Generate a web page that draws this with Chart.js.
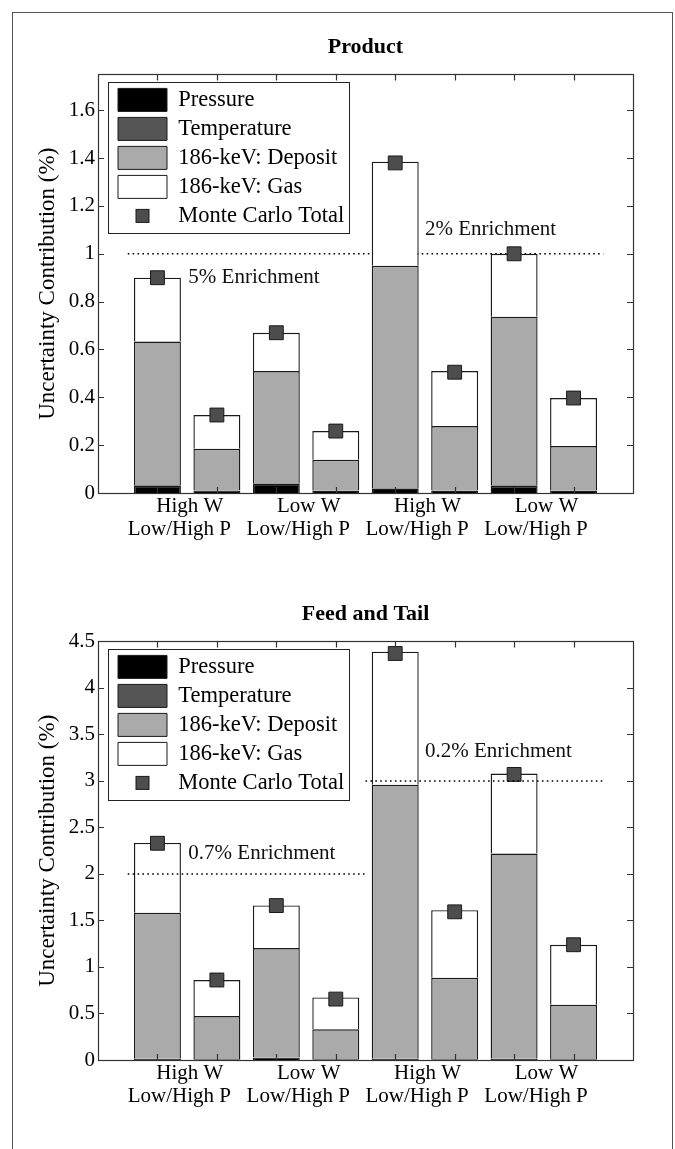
<!DOCTYPE html>
<html>
<head>
<meta charset="utf-8">
<script src="https://cdn.jsdelivr.net/npm/chart.js@4.4.1/dist/chart.umd.min.js"></script>
<style>
  html, body { margin: 0; padding: 0; background: #fff; }
  body { width: 675px; height: 1149px; position: relative; overflow: hidden; }
  #frame { position: absolute; left: 12px; top: 12px; width: 661px; height: 1200px; border: 1px solid #555; box-sizing: border-box; }
  canvas { position: absolute; left: 0; }
  #product { top: 0; }
  #feed { top: 567px; }
</style>
</head>
<body>
<div id="frame"></div>
<canvas id="product" width="675" height="567"></canvas>
<canvas id="feed" width="675" height="567"></canvas>
<script>
const FONT = "'Liberation Serif', 'Times New Roman', serif"

// bar positions and the grouped tick labels under them
const barPos = [1, 2, 3, 4, 5, 6, 7, 8]
const groupPos = [1.5, 3.5, 5.5, 7.5]
const groupTop = ['High W', 'Low W', 'High W', 'Low W']
const groupBottom = ['Low/High P', 'Low/High P', 'Low/High P', 'Low/High P']
const seriesNames = ['Pressure', 'Temperature', '186-keV: Deposit', '186-keV: Gas', 'Monte Carlo Total']

// Product
const productPressure = [0.03, 0.01, 0.038, 0.008, 0.018, 0.008, 0.029, 0.008]
const productTemperature = [0.003, 0.002, 0.003, 0.002, 0.003, 0.002, 0.003, 0.002]
const productDeposit = [0.6, 0.173, 0.469, 0.129, 0.929, 0.27, 0.705, 0.186]
const productGas = [0.267, 0.141, 0.16, 0.12, 0.435, 0.23, 0.263, 0.201]
const productMonteCarlo = [0.9, 0.326, 0.67, 0.259, 1.38, 0.505, 1.0, 0.397]
const productTicks = [0, 0.2, 0.4, 0.6, 0.8, 1, 1.2, 1.4, 1.6]
const productMax = 1.75
const productLines = [[1, 0.5, 8.5]]           // level, from, to
const productNotes = [['5% Enrichment', 1.52, 0.9], ['2% Enrichment', 5.5, 1.1]]

// Feed and Tail
const feedPressure = [0.01, 0.008, 0.025, 0.008, 0.01, 0.008, 0.01, 0.008]
const feedTemperature = [0.004, 0.003, 0.004, 0.003, 0.004, 0.003, 0.004, 0.003]
const feedDeposit = [1.568, 0.462, 1.174, 0.319, 2.946, 0.873, 2.206, 0.583]
const feedGas = [0.752, 0.386, 0.459, 0.343, 1.43, 0.727, 0.86, 0.645]
const feedMonteCarlo = [2.33, 0.86, 1.66, 0.655, 4.37, 1.593, 3.07, 1.239]
const feedTicks = [0, 0.5, 1, 1.5, 2, 2.5, 3, 3.5, 4, 4.5]
const feedMax = 4.5
const feedLines = [[2, 0.5, 4.5], [3, 4.5, 8.5]]
const feedNotes = [['0.7% Enrichment', 1.52, 2.22], ['0.2% Enrichment', 5.5, 3.32]]

const segColors = ['#000000', '#555555', '#aaaaaa', '#ffffff']

function makeChart(canvasId, title, segs, monteCarlo, yMax, yTicks, lines, notes, lineOrder) {
    const datasets = segs.map((vals, i) => ({
        type: 'bar',
        label: seriesNames[i],
        stack: 'bars',
        xAxisID: 'x',
        data: barPos.map((x, j) => ({ x: x, y: vals[j] })),
        backgroundColor: segColors[i],
        borderColor: '#1a1a1a',
        borderWidth: 1.4,
        barPercentage: 0.79,
        categoryPercentage: 1
    }))
    datasets.push({
        type: 'scatter',
        label: seriesNames[4],
        stack: 'mc',
        order: -1,
        xAxisID: 'x',
        data: barPos.map((x, j) => ({ x: x, y: monteCarlo[j] })),
        pointStyle: 'rect',
        pointRadius: 9.8,
        pointHoverRadius: 9.8,
        backgroundColor: '#4d4d4d',
        borderColor: '#1a1a1a',
        borderWidth: 1
    })
    lines.forEach(([level, from, to], k) => {
        datasets.push({
            type: 'line',
            label: 'enrichment ' + k,
            stack: 'line' + k,
            order: lineOrder,
            xAxisID: 'x',
            data: [{ x: from, y: level }, { x: to, y: level }],
            borderColor: '#000',
            borderWidth: 1.6,
            borderDash: [1.6, 3.3],
            pointRadius: 0,
            fill: false
        })
    })

    const framePlugin = {
        id: 'matlabFrame',
        afterLayout(chart) {
            const lg = chart.legend
            const a = chart.chartArea
            lg.left = a.left + 14
            lg.top = a.top + 8
            lg.right = lg.left + lg.width
            lg.bottom = lg.top + lg.height
        },
        afterDraw(chart) {
            const { ctx, chartArea: a, scales } = chart
            ctx.save()

            // text notes next to the enrichment lines
            ctx.fillStyle = '#111'
            ctx.font = '21px ' + FONT
            ctx.textAlign = 'left'
            ctx.textBaseline = 'middle'
            notes.forEach(([text, x, y]) => {
                ctx.fillText(text, scales.x.getPixelForValue(x), scales.y.getPixelForValue(y))
            })

            // axes box with inward ticks
            ctx.strokeStyle = '#333'
            ctx.lineWidth = 1.2
            ctx.strokeRect(Math.round(a.left) + 0.5, Math.round(a.top) + 0.5, Math.round(a.width), Math.round(a.height))
            ctx.beginPath()
            scales.x.ticks.forEach(t => {
                const px = Math.round(scales.x.getPixelForValue(t.value)) + 0.5
                ctx.moveTo(px, a.bottom); ctx.lineTo(px, a.bottom - 6)
                ctx.moveTo(px, a.top); ctx.lineTo(px, a.top + 6)
            })
            scales.y.ticks.forEach(t => {
                const py = Math.round(scales.y.getPixelForValue(t.value)) + 0.5
                ctx.moveTo(a.left, py); ctx.lineTo(a.left + 6, py)
                ctx.moveTo(a.right, py); ctx.lineTo(a.right - 6, py)
            })
            ctx.stroke()

            // legend border and the Monte Carlo marker swatch
            const hb = chart.legend.legendHitBoxes
            if (hb && hb.length) {
                const first = hb[0]
                const last = hb[hb.length - 1]
                const right = Math.max(...hb.map(h => h.left + h.width))
                const x0 = Math.round(first.left - 10) + 0.5
                const y0 = Math.round(first.top - 6) + 0.5
                ctx.lineWidth = 1
                ctx.strokeStyle = '#222'
                ctx.strokeRect(x0, y0, Math.round(right + 5 - x0), Math.round(last.top + last.height + 6 - y0))
                const cx = last.left + 24.5
                const cy = last.top + 11.5
                ctx.fillStyle = '#4d4d4d'
                ctx.fillRect(cx - 6.5, cy - 6.5, 13, 13)
                ctx.strokeStyle = '#1a1a1a'
                ctx.strokeRect(cx - 6.5, cy - 6.5, 13, 13)
            }
            ctx.restore()
        }
    }

    return new Chart(document.getElementById(canvasId), {
        type: 'bar',
        data: { datasets: datasets },
        plugins: [framePlugin],
        options: {
            responsive: false,
            animation: false,
            layout: { padding: { left: 0, right: 42, top: 0, bottom: 0 } },
            plugins: {
                tooltip: { enabled: false },
                title: {
                    display: true,
                    fullSize: false,
                    text: title,
                    color: '#000',
                    font: { family: FONT, size: 22, weight: 'bold' },
                    padding: { top: 34, bottom: 14 }
                },
                legend: {
                    position: 'chartArea',
                    align: 'start',
                    labels: {
                        boxWidth: 49,
                        boxHeight: 23,
                        padding: 6,
                        color: '#000',
                        font: { family: FONT, size: 22.5 },
                        filter: item => item.datasetIndex < 5,
                        sort: (a, b) => a.datasetIndex - b.datasetIndex,
                        generateLabels(chart) {
                            const items = Chart.defaults.plugins.legend.labels.generateLabels(chart)
                            items.forEach(it => {
                                if (it.datasetIndex === 4) {
                                    it.fillStyle = 'rgba(0,0,0,0)'
                                    it.strokeStyle = 'rgba(0,0,0,0)'
                                    it.lineWidth = 0
                                } else {
                                    it.lineWidth = 1
                                }
                            })
                            return items
                        }
                    }
                }
            },
            scales: {
                x: {
                    type: 'linear',
                    min: 0,
                    max: 9,
                    offset: false,
                    stacked: true,
                    grid: { display: false, drawTicks: false, offset: false },
                    border: { display: false },
                    ticks: { display: false },
                    afterBuildTicks: s => { s.ticks = barPos.map(v => ({ value: v })) },
                    afterFit: s => { s.height = 0 }
                },
                xl: {
                    type: 'linear',
                    position: 'bottom',
                    min: 0,
                    max: 9,
                    offset: false,
                    grid: { display: false, drawTicks: false },
                    border: { display: false },
                    ticks: {
                        autoSkip: false,
                        maxRotation: 0,
                        padding: 2,
                        color: '#000',
                        font: { family: FONT, size: 21, lineHeight: 1.1 },
                        callback: (v, i) => [' ' + groupTop[i], groupBottom[i] + '   ']
                    },
                    afterBuildTicks: s => { s.ticks = groupPos.map(v => ({ value: v })) },
                    afterFit: s => { s.height = 74 }
                },
                y: {
                    type: 'linear',
                    min: 0,
                    max: yMax,
                    stacked: true,
                    grid: { display: false, drawTicks: false },
                    border: { display: false },
                    ticks: {
                        padding: 3,
                        color: '#000',
                        font: { family: FONT, size: 21 },
                        callback: v => String(v)
                    },
                    afterBuildTicks: s => { s.ticks = yTicks.map(v => ({ value: v })) },
                    afterFit: s => { s.width = 98 },
                    title: {
                        display: true,
                        text: 'Uncertainty Contribution (%)',
                        color: '#000',
                        font: { family: FONT, size: 23 },
                        padding: { top: 34, bottom: 0 }
                    }
                }
            }
        }
    })
}

makeChart('product', 'Product',
    [productPressure, productTemperature, productDeposit, productGas],
    productMonteCarlo, productMax, productTicks, productLines, productNotes, 5)

makeChart('feed', 'Feed and Tail',
    [feedPressure, feedTemperature, feedDeposit, feedGas],
    feedMonteCarlo, feedMax, feedTicks, feedLines, feedNotes, -2)
</script>
</body>
</html>
